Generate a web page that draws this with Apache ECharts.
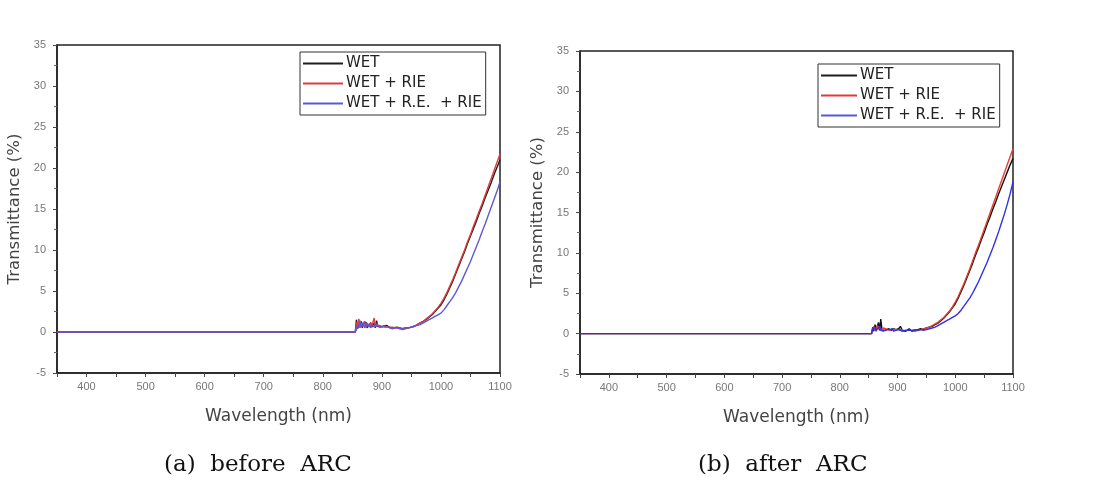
<!DOCTYPE html>
<html><head><meta charset="utf-8">
<script src="https://cdn.jsdelivr.net/npm/echarts@6/dist/echarts.min.js"></script>
<style>html,body{margin:0;padding:0;background:#fff}#c{width:1096px;height:490px}</style>
</head><body><div id="c"></div>
<script>
const wavelengths = [350, 855, 857, 859, 861, 863, 865, 867, 869, 871, 873, 875, 877, 879, 881, 883, 885, 887, 889, 891, 893, 895, 897, 899, 902, 905, 908, 911, 914, 917, 920, 925, 930, 935, 940, 945, 950, 955, 960, 965, 970, 975, 980, 985, 990, 995, 1000, 1005, 1010, 1015, 1020, 1025, 1030, 1035, 1040, 1045, 1050, 1055, 1060, 1065, 1070, 1075, 1080, 1085, 1090, 1095, 1100];
const seriesNames = ['WET', 'WET + RIE', 'WET + R.E.  + RIE'];
const xTicks = [400, 500, 600, 700, 800, 900, 1000, 1100];
const yTicks = [-5, 0, 5, 10, 15, 20, 25, 30, 35];
const captions = ['(a)  before  ARC', '(b)  after  ARC'];

// panel (a) before ARC
const wetA = [0, 0, 1.5, 0.4, 1.2, 0.6, 1.3, 0.5, 1.0, 0.8, 1.2, 0.5, 0.9, 0.7, 1.0, 0.6, 0.8, 1.1, 0.5, 1.4, 0.7, 0.9, 0.6, 0.8, 0.7, 0.5, 0.8, 0.6, 0.5, 0.7, 0.5,
  0.6, 0.5, 0.4, 0.5, 0.5, 0.6, 0.7, 0.9, 1.1, 1.3, 1.5, 1.8, 2.1, 2.5, 2.9, 3.3, 3.9, 4.6, 5.4, 6.2, 7.1, 8.0, 8.9, 9.8, 10.8, 11.7, 12.6, 13.5, 14.5, 15.4, 16.4, 17.3, 18.2, 19.2, 20.1, 21.0];
const wetRieA = [0, 0, 1.2, 0.6, 1.6, 0.5, 1.1, 0.7, 0.9, 1.3, 0.6, 1.0, 0.8, 0.6, 1.2, 0.7, 0.9, 1.7, 0.6, 1.0, 0.8, 0.7, 0.9, 0.6, 0.6, 0.7, 0.5, 0.6, 0.4, 0.6, 0.5,
  0.5, 0.4, 0.3, 0.4, 0.5, 0.6, 0.7, 0.9, 1.1, 1.3, 1.6, 1.9, 2.2, 2.6, 3.0, 3.5, 4.1, 4.8, 5.6, 6.4, 7.3, 8.2, 9.1, 10.0, 11.0, 11.9, 12.9, 13.8, 14.8, 15.7, 16.7, 17.7, 18.7, 19.7, 20.7, 21.7];
const wetReRieA = [0, 0, 0.3, 1.0, 0.5, 1.4, 0.6, 0.9, 1.2, 0.5, 0.8, 1.1, 0.6, 1.0, 0.5, 0.9, 0.7, 0.6, 1.0, 0.7, 0.5, 0.8, 0.6, 0.7, 0.5, 0.6, 0.4, 0.6, 0.5, 0.4, 0.5,
  0.5, 0.5, 0.4, 0.5, 0.5, 0.6, 0.7, 0.8, 0.9, 1.1, 1.3, 1.5, 1.7, 1.9, 2.1, 2.3, 2.7, 3.2, 3.7, 4.2, 4.8, 5.5, 6.2, 7.0, 7.8, 8.6, 9.5, 10.4, 11.3, 12.3, 13.2, 14.2, 15.2, 16.2, 17.2, 18.3];

// panel (b) after ARC
const wetB = [0, 0, 0.8, 0.3, 1.1, 0.5, 0.9, 1.4, 0.4, 1.8, 0.5, 0.7, 0.4, 0.6, 0.5, 0.4, 0.6, 0.5, 0.4, 0.5, 0.6, 0.4, 0.5, 0.4, 0.6, 0.9, 0.4, 0.5, 0.3, 0.4, 0.6,
  0.3, 0.4, 0.5, 0.6, 0.5, 0.7, 0.8, 0.9, 1.1, 1.3, 1.6, 1.9, 2.3, 2.7, 3.2, 3.7, 4.4, 5.2, 6.0, 6.9, 7.8, 8.7, 9.7, 10.6, 11.6, 12.5, 13.5, 14.4, 15.4, 16.3, 17.3, 18.2, 19.1, 20.0, 20.9, 21.7];
const wetRieB = [0, 0, 0.5, 0.9, 0.4, 0.7, 1.0, 0.5, 0.8, 0.6, 0.4, 0.7, 0.5, 0.6, 0.4, 0.5, 0.7, 0.4, 0.5, 0.6, 0.4, 0.5, 0.3, 0.5, 0.4, 0.5, 0.6, 0.4, 0.5, 0.4, 0.5,
  0.4, 0.3, 0.4, 0.5, 0.6, 0.7, 0.8, 1.0, 1.2, 1.4, 1.7, 2.0, 2.4, 2.8, 3.3, 3.9, 4.6, 5.4, 6.2, 7.1, 8.0, 9.0, 10.0, 10.9, 11.9, 12.9, 13.9, 14.9, 15.9, 16.9, 17.9, 18.9, 19.9, 20.9, 21.9, 22.9];
const wetReRieB = [0, 0, 0.6, 0.4, 0.7, 0.3, 0.6, 0.5, 0.9, 0.4, 0.6, 0.3, 0.5, 0.4, 0.6, 0.5, 0.3, 0.5, 0.4, 0.6, 0.3, 0.5, 0.4, 0.3, 0.5, 0.4, 0.3, 0.5, 0.4, 0.3, 0.4,
  0.4, 0.5, 0.4, 0.5, 0.4, 0.5, 0.6, 0.7, 0.8, 1.0, 1.2, 1.4, 1.6, 1.8, 2.0, 2.2, 2.5, 2.9, 3.4, 3.9, 4.4, 5.0, 5.7, 6.4, 7.2, 8.0, 8.8, 9.7, 10.6, 11.6, 12.6, 13.7, 14.8, 16.0, 17.3, 18.8];

const colorsA = ['#1e1e1e', '#e23a3a', '#5a5ad8'];
const colorsB = ['#111111', '#e8402a', '#3030e8'];

const chart = echarts.init(document.getElementById('c'), null, {renderer: 'canvas'});

function xAxisFor(gi) {
  return {
    type: 'value', gridIndex: gi, min: 350, max: 1100, interval: 50,
    name: 'Wavelength (nm)', nameLocation: 'middle', nameGap: 35,
    nameTextStyle: {fontFamily: 'DejaVu Sans', fontSize: 17, color: '#444'},
    axisLine: {show: true, onZero: false, lineStyle: {color: '#222', width: 1.5}},
    axisTick: {show: true, inside: false, length: 4, lineStyle: {color: '#444'}},
    axisLabel: {
      margin: 8, fontFamily: 'Liberation Sans', fontSize: 11, color: '#777',
      formatter: v => (xTicks.indexOf(v) >= 0 ? String(v) : '')
    },
    splitLine: {show: false}
  };
}
function yAxisFor(gi) {
  return {
    type: 'value', gridIndex: gi, min: yTicks[0], max: yTicks[yTicks.length - 1], interval: 5,
    name: 'Transmittance (%)', nameLocation: 'middle', nameGap: 34,
    nameTextStyle: {fontFamily: 'DejaVu Sans', fontSize: 16.5, color: '#444'},
    axisLine: {show: true, onZero: false, lineStyle: {color: '#222', width: 1.5}},
    axisTick: {show: true, inside: false, length: 4, lineStyle: {color: '#444'}},
    minorTick: {show: true, splitNumber: 2, length: 3, lineStyle: {color: '#666'}},
    axisLabel: {margin: 11, fontFamily: 'Liberation Sans', fontSize: 11, color: '#777'},
    splitLine: {show: false}
  };
}
function legendFor(left, top, w) {
  return {
    orient: 'vertical', left: left, top: top, data: seriesNames,
    icon: 'rect', itemWidth: w, itemHeight: 2, itemGap: 5,
    padding: [4, 4, 4, 3], borderColor: '#333', borderWidth: 1, borderRadius: 0,
    backgroundColor: '#fff',
    textStyle: {fontFamily: 'DejaVu Sans', fontSize: 15, color: '#222', padding: [0, 0, 0, -2]},
    selectedMode: false
  };
}
function mk(name, data, color, gi) {
  return {
    name: name, type: 'line', xAxisIndex: gi, yAxisIndex: gi,
    data: wavelengths.map((w, i) => [w, data[i]]),
    showSymbol: false, symbol: 'none', smooth: false,
    lineStyle: {color: color, width: 1.4}, itemStyle: {color: color},
    emphasis: {disabled: true}, animation: false
  };
}

chart.setOption({
  animation: false,
  grid: [
    {left: 57, top: 45, width: 443, height: 328, show: true, borderColor: '#222', borderWidth: 1.5, backgroundColor: 'transparent'},
    {left: 580, top: 51, width: 433, height: 323, show: true, borderColor: '#222', borderWidth: 1.5, backgroundColor: 'transparent'}
  ],
  xAxis: [xAxisFor(0), xAxisFor(1)],
  yAxis: [yAxisFor(0), yAxisFor(1)],
  legend: [legendFor(300, 52, 40), legendFor(818, 64, 36)],
  series: [
    mk(seriesNames[0], wetA, colorsA[0], 0),
    mk(seriesNames[1], wetRieA, colorsA[1], 0),
    mk(seriesNames[2], wetReRieA, colorsA[2], 0),
    mk(seriesNames[0], wetB, colorsB[0], 1),
    mk(seriesNames[1], wetRieB, colorsB[1], 1),
    mk(seriesNames[2], wetReRieB, colorsB[2], 1)
  ],
  graphic: [
    {type: 'text', x: 164, y: 465, style: {text: captions[0], font: '23px "DejaVu Serif"', fill: '#111', verticalAlign: 'middle'}},
    {type: 'text', x: 698, y: 465, style: {text: captions[1], font: '23px "DejaVu Serif"', fill: '#111', verticalAlign: 'middle'}}
  ]
});
</script>
</body></html>
